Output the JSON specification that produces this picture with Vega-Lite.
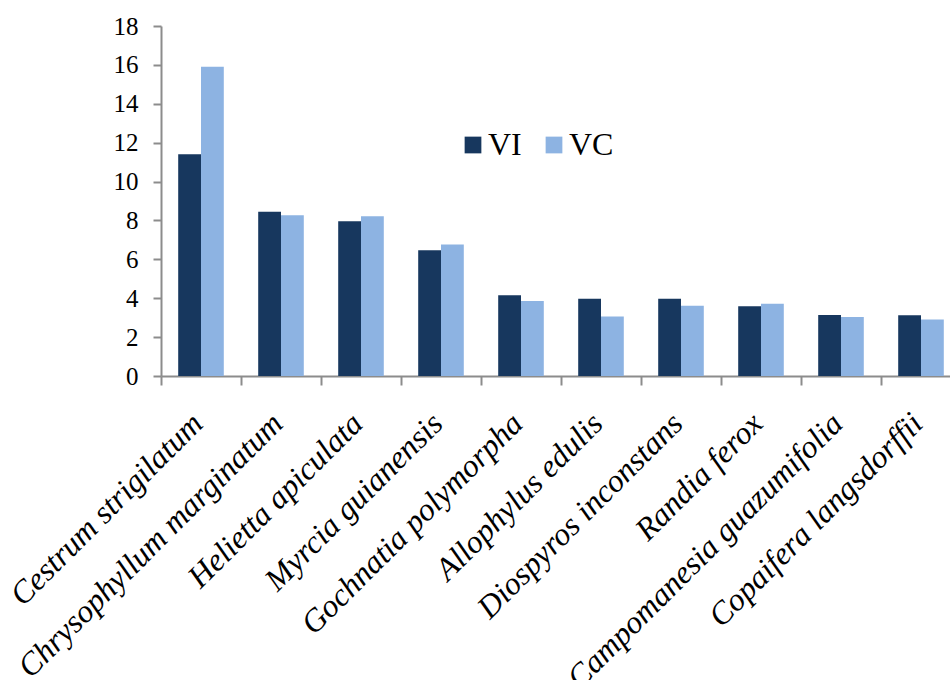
{
  "$schema": "https://vega.github.io/schema/vega-lite/v6.json",
  "autosize": {"type": "none"},
  "width": 789,
  "height": 350,
  "padding": {"left": 161, "top": 26, "right": 0, "bottom": 304},
  "background": "white",
  "data": {
    "values": [
      {"species": "Cestrum strigilatum", "index": "VI", "value": 11.4},
      {"species": "Cestrum strigilatum", "index": "VC", "value": 15.9},
      {"species": "Chrysophyllum marginatum", "index": "VI", "value": 8.45},
      {"species": "Chrysophyllum marginatum", "index": "VC", "value": 8.27},
      {"species": "Helietta apiculata", "index": "VI", "value": 7.96},
      {"species": "Helietta apiculata", "index": "VC", "value": 8.21},
      {"species": "Myrcia guianensis", "index": "VI", "value": 6.47},
      {"species": "Myrcia guianensis", "index": "VC", "value": 6.76},
      {"species": "Gochnatia polymorpha", "index": "VI", "value": 4.15},
      {"species": "Gochnatia polymorpha", "index": "VC", "value": 3.86},
      {"species": "Allophylus edulis", "index": "VI", "value": 3.97},
      {"species": "Allophylus edulis", "index": "VC", "value": 3.06},
      {"species": "Diospyros inconstans", "index": "VI", "value": 3.97},
      {"species": "Diospyros inconstans", "index": "VC", "value": 3.61},
      {"species": "Randia ferox", "index": "VI", "value": 3.59},
      {"species": "Randia ferox", "index": "VC", "value": 3.71},
      {"species": "Campomanesia guazumifolia", "index": "VI", "value": 3.14},
      {"species": "Campomanesia guazumifolia", "index": "VC", "value": 3.04},
      {"species": "Copaifera langsdorffii", "index": "VI", "value": 3.12},
      {"species": "Copaifera langsdorffii", "index": "VC", "value": 2.9}
    ]
  },
  "mark": {"type": "bar"},
  "encoding": {
    "x": {
      "field": "species",
      "type": "nominal",
      "sort": null,
      "title": null,
      "scale": {"range": [0, 800], "paddingInner": 0.43, "paddingOuter": 0.215},
      "axis": {
        "labelAngle": -45,
        "labelAlign": "right",
        "labelBaseline": "middle",
        "labelFont": "Liberation Serif",
        "labelFontStyle": "italic",
        "labelFontSize": 32,
        "labelColor": "black",
        "labelPadding": 33,
        "labelLimit": 0,
        "labelOverlap": false,
        "tickOffset": -40,
        "labelOffset": 36,
        "tickSize": 9,
        "tickWidth": 2,
        "tickColor": "#8c8c8c",
        "domainColor": "#8c8c8c",
        "domainWidth": 2,
        "grid": false
      }
    },
    "xOffset": {"field": "index", "type": "nominal", "sort": ["VI", "VC"]},
    "y": {
      "field": "value",
      "type": "quantitative",
      "title": null,
      "scale": {"domain": [0, 18], "nice": false},
      "axis": {
        "values": [0, 2, 4, 6, 8, 10, 12, 14, 16, 18],
        "labelFont": "Liberation Serif",
        "labelFontSize": 25,
        "labelColor": "black",
        "labelPadding": 15,
        "tickSize": 8,
        "tickWidth": 2,
        "tickColor": "#8c8c8c",
        "domainColor": "#8c8c8c",
        "domainWidth": 2,
        "grid": false
      }
    },
    "color": {
      "field": "index",
      "type": "nominal",
      "sort": ["VI", "VC"],
      "scale": {"domain": ["VI", "VC"], "range": ["#17375E", "#8DB3E2"]},
      "legend": {
        "title": null,
        "orient": "none",
        "direction": "horizontal",
        "legendX": 296,
        "legendY": 103,
        "padding": 0,
        "symbolType": "square",
        "symbolSize": 280,
        "symbolStrokeWidth": 0,
        "labelFont": "Liberation Serif",
        "labelFontSize": 32,
        "labelColor": "black",
        "labelOffset": -1,
        "columnPadding": 16
      }
    }
  },
  "config": {"view": {"stroke": null}}
}
